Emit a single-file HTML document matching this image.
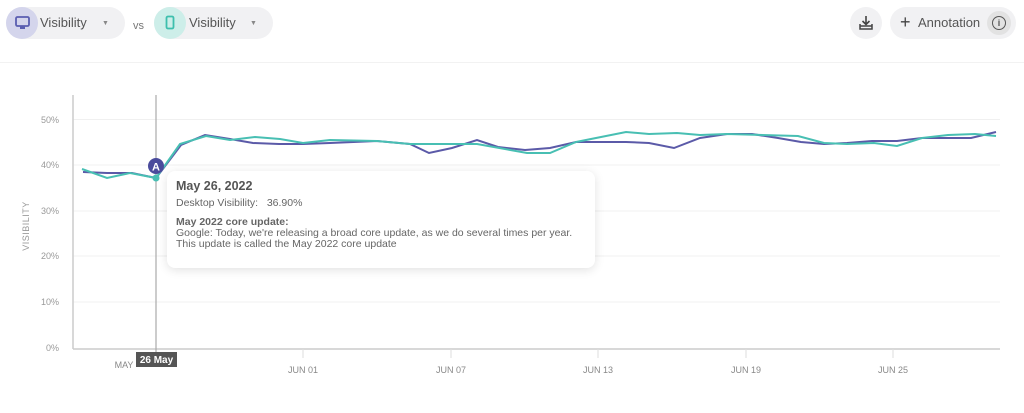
<!DOCTYPE html>
<html><head><meta charset="utf-8"><style>
body{margin:0;width:1024px;height:413px;background:#fff;font-family:"Liberation Sans",sans-serif;overflow:hidden;position:relative}
.pill{position:absolute;top:7px;height:32px;border-radius:16px;background:#f1f1f3}
.ic{position:absolute;top:0;left:0;width:32px;height:32px;border-radius:16px}
.t{position:absolute;font-size:13px;color:#555}
</style></head><body>
<div class="pill" style="left:6px;width:119px"><div class="ic" style="background:#d4d5ec"></div><span class="t" style="left:34px;top:8px">Visibility</span><span class="t" style="left:96px;top:13px;font-size:7px;color:#888">▼</span>
<svg style="position:absolute;left:9px;top:9px" width="15" height="14"><rect x="1" y="1" width="13" height="9" rx="1.5" fill="none" stroke="#5a5eb0" stroke-width="1.8"/><rect x="5" y="10" width="5" height="3" fill="#5a5eb0"/></svg></div>
<span class="t" style="left:133px;top:20px;font-size:11px;color:#777">vs</span>
<div class="pill" style="left:154px;width:119px"><div class="ic" style="background:#cdeee9"></div><span class="t" style="left:35px;top:8px">Visibility</span><span class="t" style="left:96px;top:13px;font-size:7px;color:#888">▼</span>
<svg style="position:absolute;left:11px;top:8px" width="10" height="16"><rect x="1.5" y="1.5" width="7" height="12" rx="1.5" fill="none" stroke="#3dbfad" stroke-width="1.8"/></svg></div>
<div class="pill" style="left:850px;width:32px"><svg style="position:absolute;left:8px;top:8px" width="16" height="16"><path d="M8 1v8M4.5 6L8 9.5 11.5 6" fill="none" stroke="#444" stroke-width="1.6"/><path d="M2 9v5h12V9M2 11h12" fill="none" stroke="#444" stroke-width="1.5"/></svg></div>
<div class="pill" style="left:890px;width:126px"><span class="t" style="left:10px;top:5px;font-size:18px;color:#444">+</span><span class="t" style="left:28px;top:8px">Annotation</span><div style="position:absolute;left:97px;top:4px;width:24px;height:24px;border-radius:12px;background:#e2e2e2"></div><span style="position:absolute;left:102px;top:9px;width:12px;height:12px;border:1.5px solid #555;border-radius:8px;font-size:9px;text-align:center;line-height:12px;font-weight:bold;color:#555">i</span></div>
<div style="position:absolute;left:0;top:62px;width:1024px;height:1px;background:#f2f2f2"></div>
<svg width="1024" height="413" style="position:absolute;left:0;top:0" font-family="Liberation Sans, sans-serif">
<g stroke="#f0f0f0" stroke-width="1">
<line x1="73" x2="1000" y1="119.5" y2="119.5"/><line x1="73" x2="1000" y1="165" y2="165"/><line x1="73" x2="1000" y1="211" y2="211"/><line x1="73" x2="1000" y1="256" y2="256"/><line x1="73" x2="1000" y1="302" y2="302"/></g>
<line x1="73" y1="95" x2="73" y2="349" stroke="#ccc" stroke-width="1.5"/>
<line x1="73" y1="349" x2="1000" y2="349" stroke="#ccc" stroke-width="1.5"/>
<g font-size="9" fill="#999" text-anchor="end"><text x="59" y="123">50%</text><text x="59" y="168">40%</text><text x="59" y="214">30%</text><text x="59" y="259">20%</text><text x="59" y="305">10%</text><text x="59" y="351">0%</text></g>
<text transform="translate(29,226) rotate(-90)" font-size="9" fill="#999" text-anchor="middle" letter-spacing="0.5">VISIBILITY</text>
<g font-size="9" fill="#888" text-anchor="middle"><text x="124" y="368">MAY</text><text x="303" y="373">JUN 01</text><text x="451" y="373">JUN 07</text><text x="598" y="373">JUN 13</text><text x="746" y="373">JUN 19</text><text x="893" y="373">JUN 25</text></g>
<g stroke="#ddd"><line x1="303" y1="349" x2="303" y2="358"/><line x1="451" y1="349" x2="451" y2="358"/><line x1="598" y1="349" x2="598" y2="358"/><line x1="746" y1="349" x2="746" y2="358"/><line x1="893" y1="349" x2="893" y2="358"/></g>
<line x1="156" y1="95" x2="156" y2="352" stroke="#aaa" stroke-width="1.2"/>
<polyline fill="none" stroke="#5b5aa8" stroke-width="2" points="83,172 107,173 132,173 156,178 181,145 205,135 230,139 253,143 279,144 303,144 330,143 377,141 410,144 429,153 452,148 477,140 498,147 525,150 550,148 576,142 626,142 649,143 674,148 700,138 727,134 752,134 778,138 801,142 824,144 847,143 872,141 897,141 922,138 948,138 971,138 996,132"/>
<polyline fill="none" stroke="#48bfb3" stroke-width="2" points="82,169 107,178 130,173 156,178 180,144 206,136 230,140 255,137 280,139 303,143 330,140 377,141 410,144 477,144 527,153 550,153 576,142 626,132 649,134 677,133 700,135 727,134 798,136 824,143 847,144 874,143 897,146 922,138 948,135 975,134 996,136"/>
<circle cx="156" cy="178" r="3.5" fill="#48bfb3"/>
<circle cx="156" cy="166" r="8" fill="#4a4b9c"/>
<text x="156" y="170.5" font-size="11" fill="#fff" text-anchor="middle" font-weight="bold">A</text>
<rect x="136" y="352" width="41" height="15" fill="#555"/>
<text x="156.5" y="363" font-size="10" fill="#fff" text-anchor="middle" font-weight="bold">26 May</text>
</svg>
<div style="position:absolute;left:167px;top:171px;width:428px;height:97px;background:#fff;border-radius:8px;box-shadow:0 2px 10px rgba(0,0,0,0.12);color:#666">
<div style="position:absolute;left:9px;top:8px;font-size:12.5px;font-weight:bold;color:#555">May 26, 2022</div>
<div style="position:absolute;left:9px;top:26px;font-size:10.5px">Desktop Visibility:&nbsp;&nbsp; 36.90%</div>
<div style="position:absolute;left:9px;top:46px;font-size:10.5px;line-height:11px;white-space:nowrap"><b>May 2022 core update:</b><br>Google: Today, we're releasing a broad core update, as we do several times per year.<br>This update is called the May 2022 core update</div>
</div>
</body></html>
